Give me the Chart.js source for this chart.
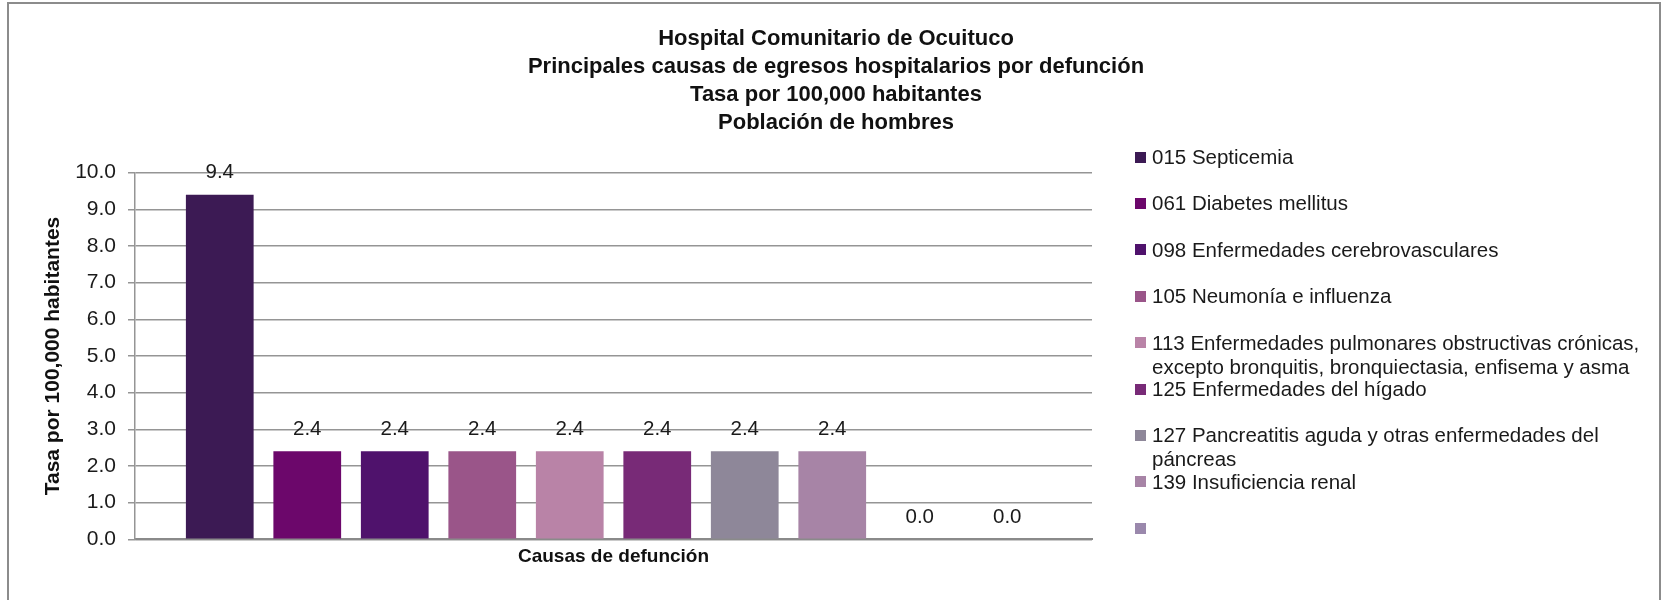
<!DOCTYPE html>
<html>
<head>
<meta charset="utf-8">
<script src="https://cdn.jsdelivr.net/npm/chart.js@4.4.1/dist/chart.umd.min.js"></script>
<style>
  html, body { margin: 0; padding: 0; background: #fff; overflow: hidden; }
  #wrap { position: relative; width: 1667px; height: 600px; overflow: hidden; }
  #frame { position: absolute; left: 6.5px; top: 1.5px; width: 1654px; height: 700px; border: 2px solid #8c8c8c; box-sizing: border-box; }
  #c { position: absolute; left: 0; top: 0; }
  #legend { position: absolute; left: 1135px; top: 0; width: 530px; height: 600px;
            font-family: "Liberation Sans", Arial, sans-serif; font-size: 20.5px; color: #1a1a1a; }
  .item { position: absolute; left: 0; height: 46px; width: 525px; }
  .sw { position: absolute; left: 0; top: 6.5px; width: 11px; height: 11px; }
  .tx { position: absolute; left: 17px; top: 0; width: 508px; line-height: 24px; white-space: normal; }
</style>
</head>
<body>
<div id="wrap">
  <div id="frame"></div>
  <canvas id="c" width="1667" height="600"></canvas>
  <div id="legend"></div>
</div>
<script>
// ---- data ----
const titleLines = [
  "Hospital Comunitario de Ocuituco",
  "Principales causas de egresos hospitalarios por defunción",
  "Tasa por 100,000 habitantes",
  "Población de hombres"
];
const categories = [""];
const seriesNames = [
  "015 Septicemia",
  "061 Diabetes mellitus",
  "098 Enfermedades cerebrovasculares",
  "105 Neumonía e influenza",
  "113 Enfermedades pulmonares obstructivas crónicas, excepto bronquitis, bronquiectasia, enfisema y asma",
  "125 Enfermedades del hígado",
  "127 Pancreatitis aguda y otras enfermedades del páncreas",
  "139 Insuficiencia renal",
  "",
  ""
];
const seriesValues = [9.4, 2.4, 2.4, 2.4, 2.4, 2.4, 2.4, 2.4, 0.0, 0.0];
const seriesColors = ["#3c1a54", "#6c076b", "#4f126c", "#9a5589", "#b983a7", "#782a77", "#8e8799", "#a784a6", "#9a88ac", "#7e6a9c"];
const legendCount = 9;
const yTitle = "Tasa por 100,000 habitantes";
const xTitle = "Causas de defunción";
const yMin = 0, yMax = 10, yStep = 1;

const FONT = '"Liberation Sans", Arial, sans-serif';

const datasets = seriesValues.map((v, i) => ({
  label: seriesNames[i],
  data: [v],
  backgroundColor: seriesColors[i],
  borderWidth: 0,
  categoryPercentage: 0.9143,
  barPercentage: 0.774
}));

const valueLabels = {
  id: 'valueLabels',
  afterDatasetsDraw(chart) {
    const ctx = chart.ctx;
    ctx.save();
    ctx.font = '20.5px ' + FONT;
    ctx.fillStyle = '#1a1a1a';
    ctx.textAlign = 'center';
    ctx.textBaseline = 'middle';
    chart.data.datasets.forEach((ds, di) => {
      const meta = chart.getDatasetMeta(di);
      meta.data.forEach((el, j) => {
        ctx.fillText(Number(ds.data[j]).toFixed(1), el.x, el.y - 22);
      });
    });
    ctx.restore();
  }
};

new Chart(document.getElementById('c'), {
  type: 'bar',
  data: { labels: categories, datasets },
  plugins: [valueLabels],
  options: {
    responsive: false,
    animation: false,
    devicePixelRatio: 1,
    layout: { padding: { left: 5, right: 0, top: 0, bottom: 0 } },
    plugins: {
      legend: { display: false },
      tooltip: { enabled: false },
      title: {
        display: true,
        text: titleLines,
        color: '#111',
        font: { family: FONT, size: 22, weight: 'bold', lineHeight: 1.286 },
        padding: { top: 24.35, bottom: 35.15 }
      }
    },
    scales: {
      x: {
        position: 'bottom',
        grid: { display: false, drawTicks: false },
        border: { display: true, color: '#8a8a8a', width: 2 },
        ticks: { display: false },
        title: {
          display: true, text: xTitle, color: '#111',
          font: { family: FONT, size: 19, weight: 'bold', lineHeight: 1.2 },
          padding: { top: 0, bottom: 31.9 }
        },
        afterFit: s => { s.height = 60.7; }
      },
      y: {
        position: 'left',
        min: yMin, max: yMax,
        grid: { color: '#959595', lineWidth: 1.5, tickLength: 7, drawTicks: true },
        border: { display: true, color: '#959595', width: 1.5 },
        ticks: {
          stepSize: yStep, padding: 12, color: '#1a1a1a',
          font: { family: FONT, size: 21 },
          callback: v => Number(v).toFixed(1)
        },
        title: {
          display: true, text: yTitle, color: '#111',
          font: { family: FONT, size: 21, weight: 'bold', lineHeight: 1.2 },
          padding: { top: 35.4, bottom: 0 }
        },
        afterFit: s => { s.width = 130; }
      },
      legendSpace: {
        type: 'linear',
        position: 'right',
        display: true,
        grid: { display: false },
        border: { display: false },
        ticks: { display: false },
        afterFit: s => { s.width = 575; }
      }
    }
  }
});

// HTML legend (first entries, as in the original)
const lg = document.getElementById('legend');
for (let i = 0; i < legendCount; i++) {
  const it = document.createElement('div');
  it.className = 'item';
  it.style.top = (145 + i * 46.4) + 'px';
  const sw = document.createElement('div');
  sw.className = 'sw';
  sw.style.background = seriesColors[i];
  const tx = document.createElement('div');
  tx.className = 'tx';
  tx.textContent = seriesNames[i];
  it.appendChild(sw); it.appendChild(tx);
  lg.appendChild(it);
}
</script>
</body>
</html>
